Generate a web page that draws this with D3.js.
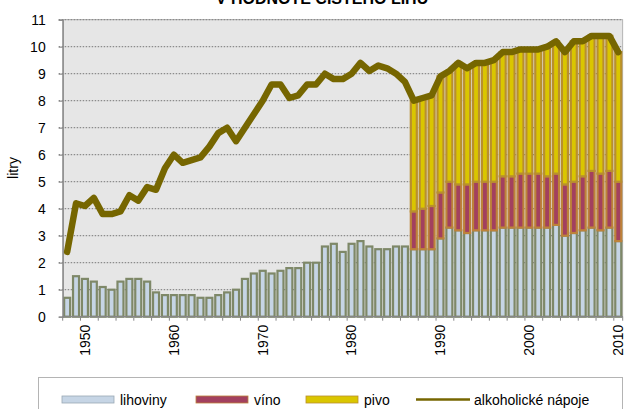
<!DOCTYPE html>
<html>
<head>
<meta charset="utf-8">
<script src="https://d3js.org/d3.v7.min.js"></script>
<style>
    body { margin: 0; background: #fff; }
    svg { display: block; font-family: "Liberation Sans", Arial, sans-serif; }
</style>
</head>
<body>
<svg id="chart" width="626" height="409"></svg>
<script>
// roky (kategorie)
let years = d3.range(1948, 2011);
let stackStart = 1987; // od tohoto roku jsou k dispozici i víno a pivo
let yTicks = [0, 1, 2, 3, 4, 5, 6, 7, 8, 9, 10, 11];
let xLabels = [1950, 1960, 1970, 1980, 1990, 2000, 2010];

// lihoviny 1948-2010
let lihoviny = [
    0.7, 1.5, 1.4, 1.3, 1.1, 1.0, 1.3, 1.4, 1.4, 1.3,
    0.9, 0.8, 0.8, 0.8, 0.8, 0.7, 0.7, 0.8, 0.9, 1.0,
    1.4, 1.6, 1.7, 1.6, 1.7, 1.8, 1.8, 2.0, 2.0, 2.6,
    2.7, 2.4, 2.7, 2.8, 2.6, 2.5, 2.5, 2.6, 2.6,
    2.5, 2.5, 2.5, 2.9, 3.3, 3.2, 3.1, 3.2, 3.2, 3.2,
    3.3, 3.3, 3.3, 3.3, 3.3, 3.3, 3.4, 3.0, 3.1, 3.2,
    3.3, 3.2, 3.3, 2.8
];
// víno 1987-2010
let vino = [
    1.4, 1.5, 1.6, 1.7, 1.7, 1.7, 1.8, 1.8, 1.8, 1.8,
    1.9, 1.9, 2.0, 2.0, 2.0, 1.9, 1.9, 1.9, 1.9, 2.0,
    2.1, 2.1, 2.1, 2.2
];
// pivo 1987-2010
let pivo = [
    4.1, 4.1, 4.1, 4.3, 4.1, 4.5, 4.3, 4.4, 4.4, 4.5,
    4.6, 4.6, 4.6, 4.6, 4.6, 4.8, 4.9, 4.9, 5.2, 5.0,
    5.0, 5.1, 5.0, 4.8
];
// alkoholické nápoje celkem 1948-2010
let napoje = [
    2.4, 4.2, 4.1, 4.4, 3.8, 3.8, 3.9, 4.5, 4.3, 4.8,
    4.7, 5.5, 6.0, 5.7, 5.8, 5.9, 6.3, 6.8, 7.0, 6.5,
    7.0, 7.5, 8.0, 8.6, 8.6, 8.1, 8.2, 8.6, 8.6, 9.0,
    8.8, 8.8, 9.0, 9.4, 9.1, 9.3, 9.2, 9.0, 8.7,
    8.0, 8.1, 8.2, 8.9, 9.1, 9.4, 9.2, 9.4, 9.4, 9.5,
    9.8, 9.8, 9.9, 9.9, 9.9, 10.0, 10.2, 9.8, 10.2, 10.2,
    10.4, 10.4, 10.4, 9.8
];

let keys = ['lihoviny', 'vino', 'pivo'];
let names = { lihoviny: 'lihoviny', vino: 'víno', pivo: 'pivo' };
let fills = { lihoviny: '#c6d5e5', vino: '#a2405f', pivo: '#dac600' };
let strokes = { lihoviny: '#7e8868', vino: '#bd823a', pivo: '#b88f2e' };
let lineColor = '#766600';

// tabulka pro d3.stack
let table = years.map((year, i) => {
    let k = year - stackStart;
    return {
        year: year,
        lihoviny: lihoviny[i],
        vino: k >= 0 ? vino[k] : 0,
        pivo: k >= 0 ? pivo[k] : 0,
        total: napoje[i]
    };
});

let plotL = 62.7, plotR = 622.7, plotT = 19.7, plotB = 316.7;
let svg = d3.select('#chart');

let x = d3.scaleBand().domain(years).range([plotL, plotR]).padding(0);
let y = d3.scaleLinear().domain([0, 11]).range([plotB, plotT]);

// pozadí plochy grafu
svg.append('rect')
    .attr('x', plotL).attr('y', plotT)
    .attr('width', plotR - plotL).attr('height', plotB - plotT)
    .attr('fill', '#e6e6e6')
    .attr('stroke', '#a6a6a6')
    .attr('stroke-width', 0.8);

// mřížka
svg.append('g')
    .selectAll('line')
    .data(yTicks.filter(d => d > 0))
    .join('line')
    .attr('x1', plotL - 4).attr('x2', plotR)
    .attr('y1', d => y(d)).attr('y2', d => y(d))
    .attr('stroke', '#8c8c8c')
    .attr('stroke-width', 1.3)
    .attr('stroke-dasharray', '1.5,1.5');

// sloupce
let series = d3.stack().keys(keys)(table);
let barW = 6.0;
svg.append('g')
    .selectAll('g')
    .data(series)
    .join('g')
    .attr('fill', d => fills[d.key])
    .attr('stroke', d => strokes[d.key])
    .attr('stroke-width', 2.2)
    .selectAll('rect')
    .data(d => d.filter(s => s[1] - s[0] > 0))
    .join('rect')
    .attr('x', d => x(d.data.year) + (x.bandwidth() - barW) / 2)
    .attr('width', barW)
    .attr('y', d => y(d[1]))
    .attr('height', d => y(d[0]) - y(d[1]));

// osa Y
let yAxis = svg.append('g')
    .attr('transform', `translate(${plotL},0)`)
    .call(d3.axisLeft(y).tickValues(yTicks).tickSize(4).tickPadding(13).tickFormat(d3.format('d')));
yAxis.select('.domain').attr('stroke', '#868686').attr('stroke-width', 1.3);
yAxis.selectAll('.tick line').attr('stroke', '#868686');
yAxis.selectAll('text').attr('font-size', 14).attr('fill', '#000');

// osa X
let xg = svg.append('g').attr('transform', `translate(0,${plotB})`);
xg.append('line')
    .attr('x1', plotL).attr('x2', plotR)
    .attr('stroke', '#868686').attr('stroke-width', 1.3);
xg.selectAll('line.tk')
    .data(years.filter((d, i) => i % 2 == 0).concat([2011]))
    .join('line')
    .attr('class', 'tk')
    .attr('x1', d => d == 2011 ? plotR : x(d))
    .attr('x2', d => d == 2011 ? plotR : x(d))
    .attr('y1', 0).attr('y2', 4)
    .attr('stroke', '#868686');
xg.selectAll('text')
    .data(xLabels)
    .join('text')
    .attr('transform', d => `translate(${x(d) + x.bandwidth() / 2},8) rotate(-90)`)
    .attr('text-anchor', 'end')
    .attr('dy', '0.35em')
    .attr('font-size', 14)
    .text(d => d);

// čára celkem
let line = d3.line()
    .x(d => x(d.year) + x.bandwidth() / 2)
    .y(d => y(d.total));
svg.append('path')
    .datum(table)
    .attr('d', line)
    .attr('fill', 'none')
    .attr('stroke', lineColor)
    .attr('stroke-width', 6.5)
    .attr('stroke-linejoin', 'round')
    .attr('stroke-linecap', 'round');

// titulek (horní část je oříznutá)
svg.append('text')
    .attr('x', 322).attr('y', 4)
    .attr('text-anchor', 'middle')
    .attr('font-size', 16)
    .attr('font-weight', 'bold')
    .text('V HODNOTĚ ČISTÉHO LIHU');

// popis osy Y
svg.append('text')
    .attr('transform', 'translate(18,168) rotate(-90)')
    .attr('text-anchor', 'middle')
    .attr('font-size', 14)
    .text('litry');

// legenda
let legend = svg.append('g');
legend.append('rect')
    .attr('x', 38.5).attr('y', 377.5)
    .attr('width', 584).attr('height', 45)
    .attr('fill', '#fff')
    .attr('stroke', '#b4b4b4');
let legendX = { lihoviny: 62, vino: 196, pivo: 306 };
keys.forEach(k => {
    legend.append('rect')
        .attr('x', legendX[k]).attr('y', 396)
        .attr('width', 52).attr('height', 7)
        .attr('fill', fills[k])
        .attr('stroke', k == 'lihoviny' ? '#9aa8b4' : strokes[k])
        .attr('stroke-width', 0.8);
    legend.append('text')
        .attr('x', legendX[k] + 58).attr('y', 404.5)
        .attr('font-size', 14)
        .text(names[k]);
});
legend.append('line')
    .attr('x1', 416).attr('x2', 470)
    .attr('y1', 399.5).attr('y2', 399.5)
    .attr('stroke', lineColor)
    .attr('stroke-width', 2.5);
legend.append('text')
    .attr('x', 474).attr('y', 404.5)
    .attr('font-size', 14)
    .text('alkoholické nápoje');
</script>
</body>
</html>
